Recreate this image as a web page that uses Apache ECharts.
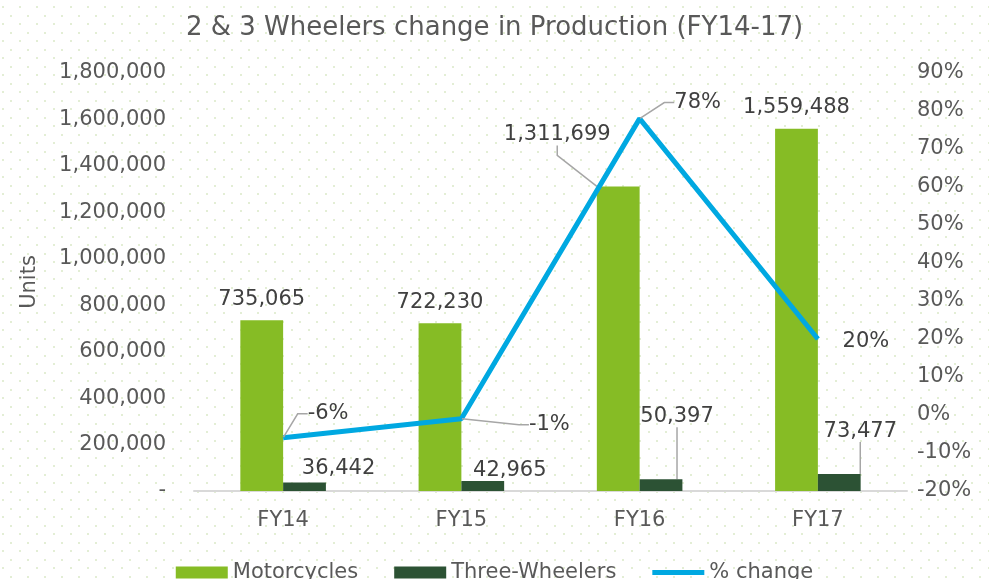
<!DOCTYPE html>
<html>
<head>
<meta charset="utf-8">
<script src="https://cdn.jsdelivr.net/npm/echarts@6/dist/echarts.min.js"></script>
<style>html,body{margin:0;padding:0;background:#fff}#c{width:989px;height:579px}</style>
</head>
<body>
<div id="c"></div>
<script>
var categories = ['FY14', 'FY15', 'FY16', 'FY17'];
var motorcycles = [735065, 722230, 1311699, 1559488];
var threeWheelers = [36442, 42965, 50397, 73477];
var pctChange = [-6, -1, 78, 20];
var leftTicks = [0, 1800000, 200000];
var rightTicks = [-20, 90, 10];

// label offsets (layout only)
var motoOff = [[0, -5], [0, -5], [-61, -36], [0, -6]];
var motoLine = [false, false, true, false];
var twOff = [[34, 2], [27, 5], [16, -47], [21, -27]];
var twLine = [false, false, true, true];
var pctOff = [[45, -8], [88, 22], [58, 0], [48, 19]];
var pctLine = [true, true, true, false];

var FONT = '"DejaVu Sans", sans-serif';
var FS = 21;
var pat = document.createElement('canvas');
pat.width = 17; pat.height = 17;
var pc = pat.getContext('2d');
pc.fillStyle = '#fff'; pc.fillRect(0, 0, 17, 17);
pc.fillStyle = '#e3eed5';
pc.fillRect(2, 6, 2, 2);
pc.fillRect(10, 15, 2, 2);

function fmt(n) { return n.toString().replace(/\B(?=(\d{3})+(?!\d))/g, ','); }

function items(vals, lines) {
  return vals.map(function (v, i) {
    return { value: v, labelLine: { show: lines[i] } };
  });
}

var chart = echarts.init(document.getElementById('c'));
var labelStyle = { show: true, position: 'top', fontFamily: FONT, fontSize: FS, color: '#404040' };
var guide = { show: true, lineStyle: { color: '#a6a6a6', width: 1.5 }, length: 8, length2: 10 };

chart.setOption({
  backgroundColor: { image: pat, repeat: 'repeat' },
  textStyle: { fontFamily: FONT },
  title: {
    text: '2 & 3 Wheelers change in Production (FY14-17)',
    left: 'center', top: 10,
    textStyle: { fontFamily: FONT, fontSize: 26, fontWeight: 'normal', color: '#595959' }
  },
  legend: {
    top: 557, left: 'center',
    itemWidth: 52, itemHeight: 12, itemGap: 36,
    textStyle: { fontFamily: FONT, fontSize: FS, color: '#595959' },
    data: [
      { name: 'Motorcycles', icon: 'rect' },
      { name: 'Three-Wheelers', icon: 'rect' },
      { name: '% change', icon: 'path://M0,0M0,3.5h52v5h-52zM52,12', itemStyle: { color: '#00a8e1' } }
    ]
  },
  grid: { left: 194, right: 82, top: 73, bottom: 88 },
  xAxis: {
    type: 'category', data: categories,
    axisLine: { lineStyle: { color: '#d9d9d9', width: 2 } },
    axisTick: { show: false },
    axisLabel: { fontFamily: FONT, fontSize: FS, color: '#595959', margin: 19 }
  },
  yAxis: [{
    type: 'value', min: leftTicks[0], max: leftTicks[1], interval: leftTicks[2],
    name: 'Units', nameLocation: 'middle', nameGap: 154, nameRotate: 90,
    nameTextStyle: { fontFamily: FONT, fontSize: FS, color: '#595959' },
    splitLine: { show: false }, axisLine: { show: false }, axisTick: { show: false },
    axisLabel: {
      fontFamily: FONT, fontSize: FS, color: '#595959', margin: 28,
      formatter: function (v) { return v === 0 ? '-' : fmt(v); }
    }
  }, {
    type: 'value', min: rightTicks[0], max: rightTicks[1], interval: rightTicks[2],
    splitLine: { show: false }, axisLine: { show: false }, axisTick: { show: false },
    axisLabel: { fontFamily: FONT, fontSize: FS, color: '#595959', margin: 10, formatter: '{value}%' }
  }],
  series: [{
    name: 'Motorcycles', type: 'bar', data: items(motorcycles, motoLine),
    itemStyle: { color: '#86bc25' }, barGap: 0, barCategoryGap: '52%',
    label: Object.assign({}, labelStyle, { formatter: function (p) { return fmt(p.value); } }),
    labelLine: guide,
    labelLayout: function (p) { return { dx: motoOff[p.dataIndex][0], dy: motoOff[p.dataIndex][1] }; }
  }, {
    name: 'Three-Wheelers', type: 'bar', data: items(threeWheelers, twLine),
    itemStyle: { color: '#2c5234' },
    label: Object.assign({}, labelStyle, { formatter: function (p) { return fmt(p.value); } }),
    labelLine: guide,
    labelLayout: function (p) { return { dx: twOff[p.dataIndex][0], dy: twOff[p.dataIndex][1] }; }
  }, {
    name: '% change', type: 'line', yAxisIndex: 1, data: items(pctChange, pctLine),
    showSymbol: true, symbol: 'circle', symbolSize: 1,
    lineStyle: { color: '#00a8e1', width: 5 }, itemStyle: { color: '#00a8e1' },
    label: Object.assign({}, labelStyle, { formatter: function (p) { return p.value + '%'; } }),
    labelLine: guide,
    labelLayout: function (p) { return { dx: pctOff[p.dataIndex][0], dy: pctOff[p.dataIndex][1] }; },
    z: 5
  }]
});
</script>
</body>
</html>
